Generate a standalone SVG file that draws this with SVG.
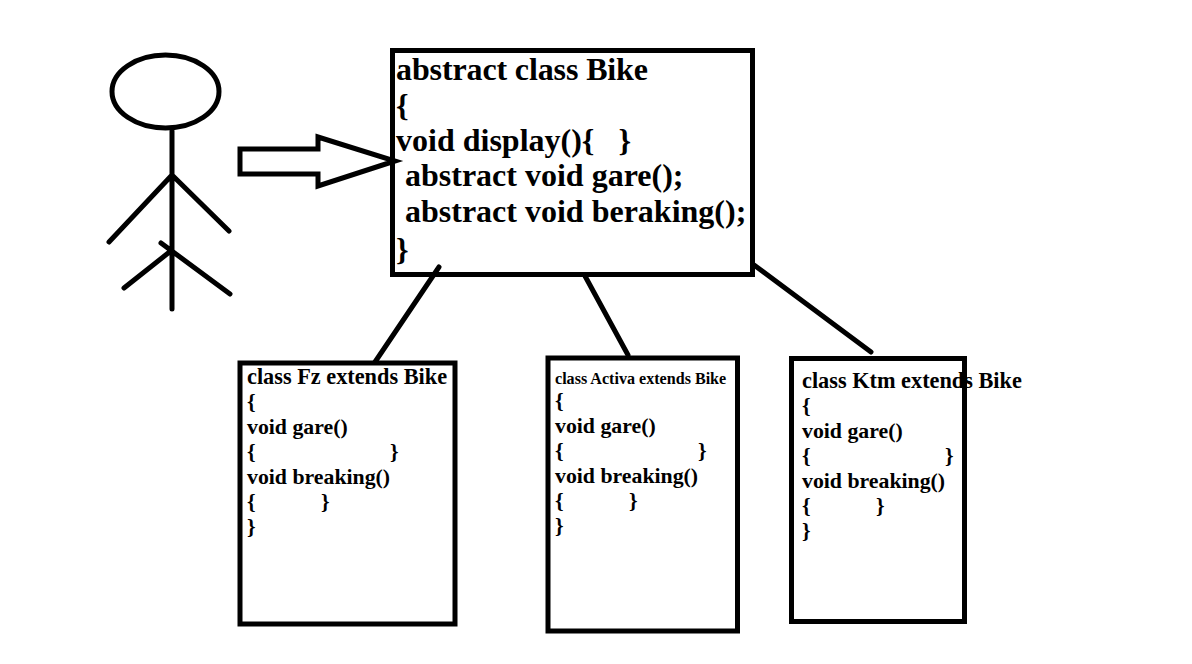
<svg xmlns="http://www.w3.org/2000/svg" width="1192" height="664" viewBox="0 0 1192 664">
<style>
.s{fill:none;stroke:#000;stroke-width:5;stroke-linecap:round;stroke-linejoin:miter}
.b{fill:#fff;stroke:#000;stroke-width:5}
text{font-family:"Liberation Serif","Times New Roman",serif;font-weight:bold;fill:#000;white-space:pre}
.l{font-size:32px}
.m{font-size:21.8px}
.t{font-size:22.3px}
.a{font-size:16.1px}
</style>
<rect width="1192" height="664" fill="#fff"/>
<g id="actor">
<ellipse class="s" cx="165.500" cy="91.500" rx="53.500" ry="36.500"/>
<path class="s" d="M172 131V309M172 175L109 242M172 175L229 231M172 250L124 288M161 243L230 294"/>
</g>
<g id="bike">
<rect class="b" x="392.500" y="50.500" width="360" height="224"/>
<text class="l" x="396" y="80" textLength="252">abstract class Bike</text>
<text class="l" x="396" y="116">{</text>
<text class="l" x="396" y="151">void display(){   }</text>
<text class="l" x="405" y="186">abstract void gare();</text>
<text class="l" x="405" y="222">abstract void beraking();</text>
<text class="l" x="396" y="260">}</text>
</g>
<g id="fz">
<rect class="b" x="240" y="363" width="215" height="261"/>
<text class="t" x="247" y="384">class Fz extends Bike</text>
<g class="m">
<text x="247" y="409">{</text>
<text x="247" y="434">void gare()</text>
<text x="247" y="459">{</text><text x="390" y="459">}</text>
<text x="247" y="484">void breaking()</text>
<text x="247" y="509">{</text><text x="321" y="509">}</text>
<text x="247" y="534">}</text>
</g>
</g>
<g id="activa">
<rect class="b" x="548" y="358" width="189.500" height="273"/>
<text class="a" x="555" y="384">class Activa extends Bike</text>
<g class="m">
<text x="555" y="408">{</text>
<text x="555" y="433">void gare()</text>
<text x="555" y="458">{</text><text x="698" y="458">}</text>
<text x="555" y="483">void breaking()</text>
<text x="555" y="508">{</text><text x="629" y="508">}</text>
<text x="555" y="533">}</text>
</g>
</g>
<g id="ktm">
<rect class="b" x="791.500" y="358.500" width="173" height="263"/>
<text class="t" x="802" y="388">class Ktm extends Bike</text>
<g class="m">
<text x="802" y="413">{</text>
<text x="802" y="438">void gare()</text>
<text x="802" y="463">{</text><text x="945" y="463">}</text>
<text x="802" y="488">void breaking()</text>
<text x="802" y="513">{</text><text x="876" y="513">}</text>
<text x="802" y="538">}</text>
</g>
</g>
<g id="connectors">
<path class="s" d="M240 149H318V137L395 161L318 186V174H240Z" stroke-linejoin="round"/>
<path class="s" d="M439 267L375 362M585 276L628 355M754 265L871 352"/>
</g>
</svg>
